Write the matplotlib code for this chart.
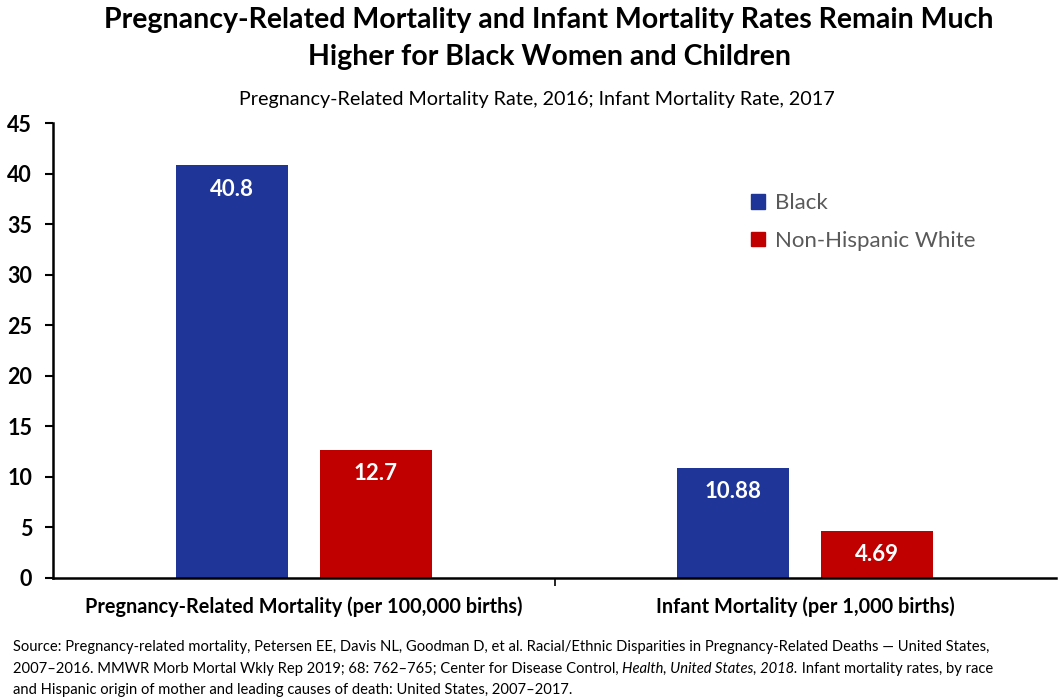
import matplotlib
matplotlib.use("Agg")
import matplotlib.pyplot as plt
from matplotlib.patches import Patch

categories = ["Pregnancy-Related Mortality (per 100,000 births)", "Infant Mortality (per 1,000 births)"]
series_names = ["Black", "Non-Hispanic White"]
black_values = [40.8, 10.88]
white_values = [12.7, 4.69]
black_labels = ["40.8", "10.88"]
white_labels = ["12.7", "4.69"]
yticks = [0, 5, 10, 15, 20, 25, 30, 35, 40, 45]

plt.rcParams['font.family'] = ['Lato', 'DejaVu Sans']

fig = plt.figure(figsize=(10.58, 6.98), dpi=100)
ax = fig.add_axes([53/1058, 120/698, 1003/1058, 455/698])

colors = ["#1f3598", "#c00000"]
w = 0.223
off = w/2 + 0.032
x = [0, 1]
b1 = ax.bar([i - off for i in x], black_values, width=w, color=colors[0])
b2 = ax.bar([i + off for i in x], white_values, width=w, color=colors[1])

for bars, labs in ((b1, black_labels), (b2, white_labels)):
    for r, lab in zip(bars, labs):
        ax.annotate(lab, (r.get_x() + r.get_width()/2, r.get_height()),
                    xytext=(0, -17), textcoords="offset points",
                    ha="center", va="center", color="white",
                    fontsize=16, fontweight="bold")

ax.set_xlim(-0.5, 1.5)
ax.set_ylim(0, 45)
ax.set_yticks(yticks)
ax.set_yticklabels([str(t) for t in yticks], fontsize=15.5, fontweight="bold")
ax.tick_params(axis='y', direction='out', length=6, width=1.5, pad=9)
ax.set_xticks([0.5])
ax.set_xticklabels([""])
ax.tick_params(axis='x', direction='out', length=6, width=1.2)
for s in ["top", "right"]:
    ax.spines[s].set_visible(False)
ax.spines["left"].set_linewidth(1.8)
ax.spines["bottom"].set_linewidth(1.8)

for xi, c in zip(x, categories):
    ax.text(xi, -2.8, c, ha="center", va="center", fontsize=14.3, fontweight="bold")

handles = [Patch(color=colors[0]), Patch(color=colors[1])]
leg = ax.legend(handles, series_names, loc="upper left", bbox_to_anchor=(678/1003, 0.89),
                frameon=False, fontsize=16, handlelength=0.65, handleheight=0.65,
                handletextpad=0.45, labelspacing=0.8)
for t in leg.get_texts():
    t.set_color("#595959")

fig.text(549/1058, 1 - 20/698, "Pregnancy-Related Mortality and Infant Mortality Rates Remain Much",
         ha="center", va="center", fontsize=20.5, fontweight="bold")
fig.text(549/1058, 1 - 57/698, "Higher for Black Women and Children",
         ha="center", va="center", fontsize=20.5, fontweight="bold")
fig.text(537/1058, 1 - 99/698, "Pregnancy-Related Mortality Rate, 2016; Infant Mortality Rate, 2017",
         ha="center", va="center", fontsize=14.2)

fn = 10.65
fig.text(13/1058, 1 - 647/698,
         "Source: Pregnancy-related mortality, Petersen EE, Davis NL, Goodman D, et al. Racial/Ethnic Disparities in Pregnancy-Related Deaths \u2014 United States,",
         ha="left", va="center", fontsize=fn)
t1 = fig.text(13/1058, 1 - 669/698,
              "2007\u20132016. MMWR Morb Mortal Wkly Rep 2019; 68: 762\u2013765; Center for Disease Control, ",
              ha="left", va="center", fontsize=fn)
t2 = ax.annotate("Health, United States, 2018.", xy=(1, 0.5), xycoords=t1,
                 ha="left", va="center", fontsize=fn, style="italic", annotation_clip=False)
t3 = ax.annotate(" Infant mortality rates, by race", xy=(1, 0.5), xycoords=t2,
                 ha="left", va="center", fontsize=fn, annotation_clip=False)
fig.text(13/1058, 1 - 690/698,
         "and Hispanic origin of mother and leading causes of death: United States, 2007\u20132017.",
         ha="left", va="center", fontsize=fn)

fig.savefig("out.png", dpi=100)
